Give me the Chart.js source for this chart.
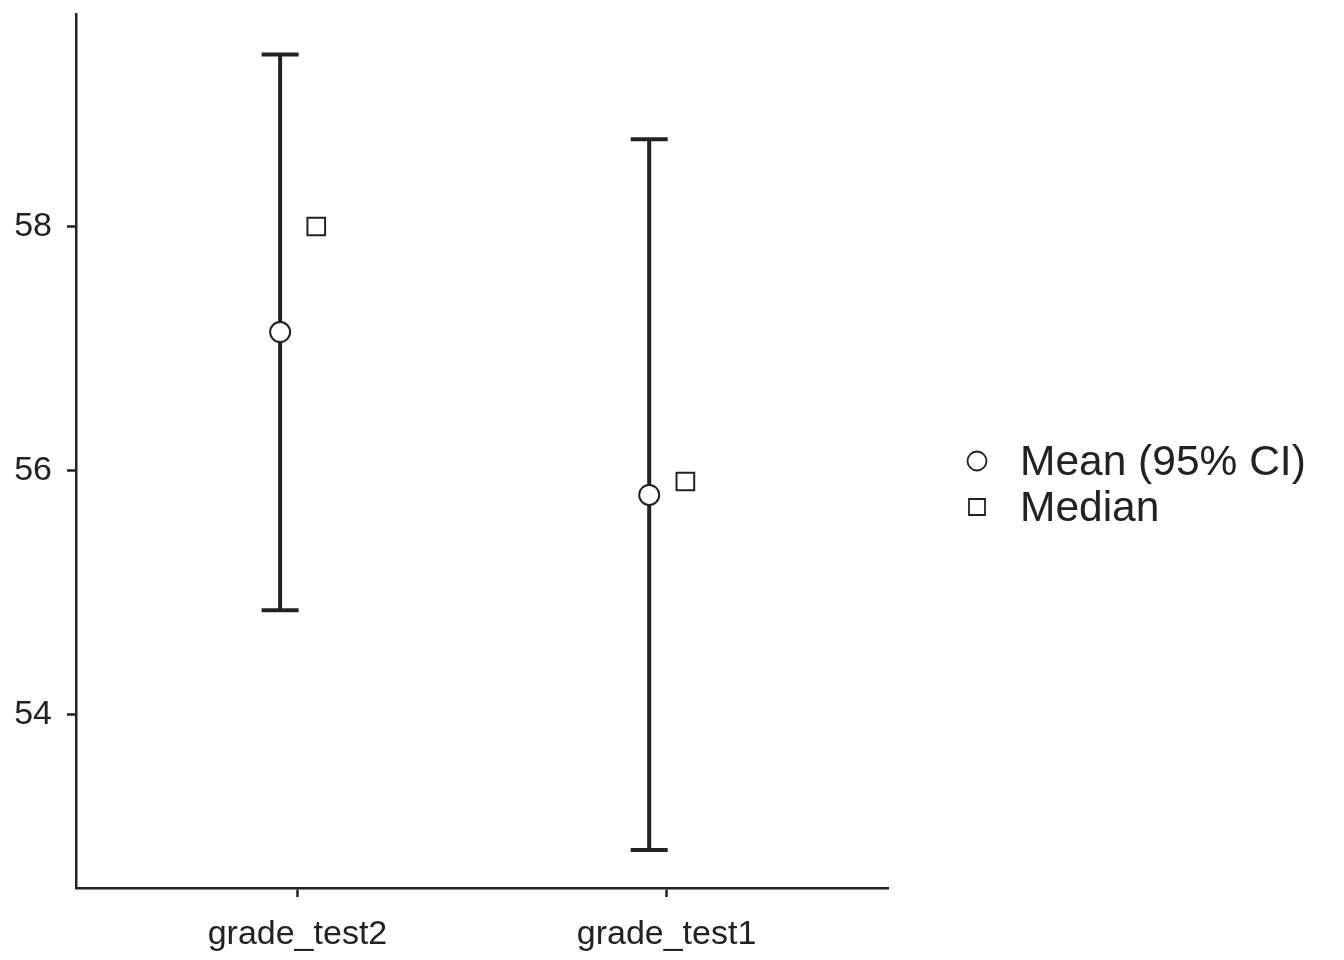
<!DOCTYPE html>
<html>
<head>
<meta charset="utf-8">
<script src="https://cdn.jsdelivr.net/npm/chart.js@4/dist/chart.umd.min.js"></script>
<style>
  html, body { margin: 0; padding: 0; background: #ffffff; }
  #wrap { width: 1344px; height: 960px; position: relative; }
</style>
</head>
<body>
<div id="wrap"><canvas id="c" width="1344" height="960"></canvas></div>
<script>
// ---- data ----
const categories = ["grade_test2", "grade_test1"];
const meanValues = [57.135, 55.80];
const ciLower = [54.856, 52.89];
const ciUpper = [59.41, 58.714];
const medianValues = [58.0, 55.91];
const yTickValues = [54, 56, 58];
const legendLabels = ["Mean (95% CI)", "Median"];

// ---- style ----
const INK = "#222222";
const FONT = "'Liberation Sans', Arial, Helvetica, sans-serif";
const meanDodge = -0.047;
const medianDodge = 0.051;

const errorBarPlugin = {
  id: "errorBars",
  beforeDatasetsDraw(chart) {
    const xs = chart.scales.x, ys = chart.scales.y, ctx = chart.ctx;
    ctx.save();
    ctx.strokeStyle = INK;
    ctx.lineWidth = 4;
    ctx.lineCap = "butt";
    const half = 18.5;
    categories.forEach((c, i) => {
      const x = xs.getPixelForValue(i + meanDodge);
      const yl = ys.getPixelForValue(ciLower[i]);
      const yu = ys.getPixelForValue(ciUpper[i]);
      ctx.beginPath();
      ctx.moveTo(x, yl); ctx.lineTo(x, yu);
      ctx.moveTo(x - half, yl); ctx.lineTo(x + half, yl);
      ctx.moveTo(x - half, yu); ctx.lineTo(x + half, yu);
      ctx.stroke();
    });
    ctx.restore();
  }
};

const legendPlugin = {
  id: "customLegend",
  afterDraw(chart) {
    const ctx = chart.ctx;
    ctx.save();
    const cx = 977, rows = [461, 507], tx = 1020;
    chart.data.datasets.forEach((ds, i) => {
      const y = rows[i];
      ctx.strokeStyle = INK;
      ctx.fillStyle = "#ffffff";
      ctx.lineWidth = 1.8;
      ctx.beginPath();
      if (ds.pointStyle === "circle") {
        ctx.arc(cx, y, 9.5, 0, Math.PI * 2);
      } else {
        ctx.rect(cx - 8, y - 8, 16, 16);
      }
      ctx.fill();
      ctx.stroke();
      ctx.fillStyle = INK;
      ctx.font = "42.5px " + FONT;
      ctx.textBaseline = "middle";
      ctx.textAlign = "left";
      ctx.fillText(legendLabels[i], tx, y + 2);
    });
    ctx.restore();
  }
};

new Chart(document.getElementById("c"), {
  type: "scatter",
  data: {
    datasets: [
      {
        label: legendLabels[0],
        data: meanValues.map((v, i) => ({ x: i + meanDodge, y: v })),
        pointStyle: "circle",
        pointRadius: 10,
        pointHoverRadius: 10,
        pointBackgroundColor: "#ffffff",
        pointBorderColor: INK,
        pointBorderWidth: 2
      },
      {
        label: legendLabels[1],
        data: medianValues.map((v, i) => ({ x: i + medianDodge, y: v })),
        pointStyle: "rect",
        pointRadius: 12.5,
        pointHoverRadius: 12.5,
        pointBackgroundColor: "#ffffff",
        pointBorderColor: INK,
        pointBorderWidth: 2
      }
    ]
  },
  options: {
    responsive: false,
    animation: false,
    events: [],
    layout: { padding: { top: 14, right: 456, left: 0, bottom: 0 } },
    plugins: { legend: { display: false }, tooltip: { enabled: false } },
    scales: {
      x: {
        type: "linear",
        min: -0.6,
        max: 1.6,
        afterBuildTicks(scale) { scale.ticks = categories.map((c, i) => ({ value: i })); },
        afterFit(scale) { scale.height = 72; },
        ticks: {
          callback: (v) => categories[v],
          color: INK,
          font: { family: FONT, size: 34 },
          padding: 17,
          maxRotation: 0
        },
        grid: { drawOnChartArea: false, drawTicks: true, tickLength: 9, tickWidth: 2.5, tickColor: INK },
        border: { display: true, color: INK, width: 2.5 }
      },
      y: {
        type: "linear",
        min: 52.579,
        max: 59.737,
        afterBuildTicks(scale) { scale.ticks = yTickValues.map(v => ({ value: v })); },
        afterFit(scale) { scale.width = 76; scale.paddingTop = 0; scale.paddingBottom = 0; },
        ticks: {
          color: INK,
          font: { family: FONT, size: 34 },
          padding: 15
        },
        grid: { drawOnChartArea: false, drawTicks: true, tickLength: 9, tickWidth: 2.5, tickColor: INK },
        border: { display: true, color: INK, width: 2.5 }
      }
    }
  },
  plugins: [errorBarPlugin, legendPlugin]
});
</script>
</body>
</html>
